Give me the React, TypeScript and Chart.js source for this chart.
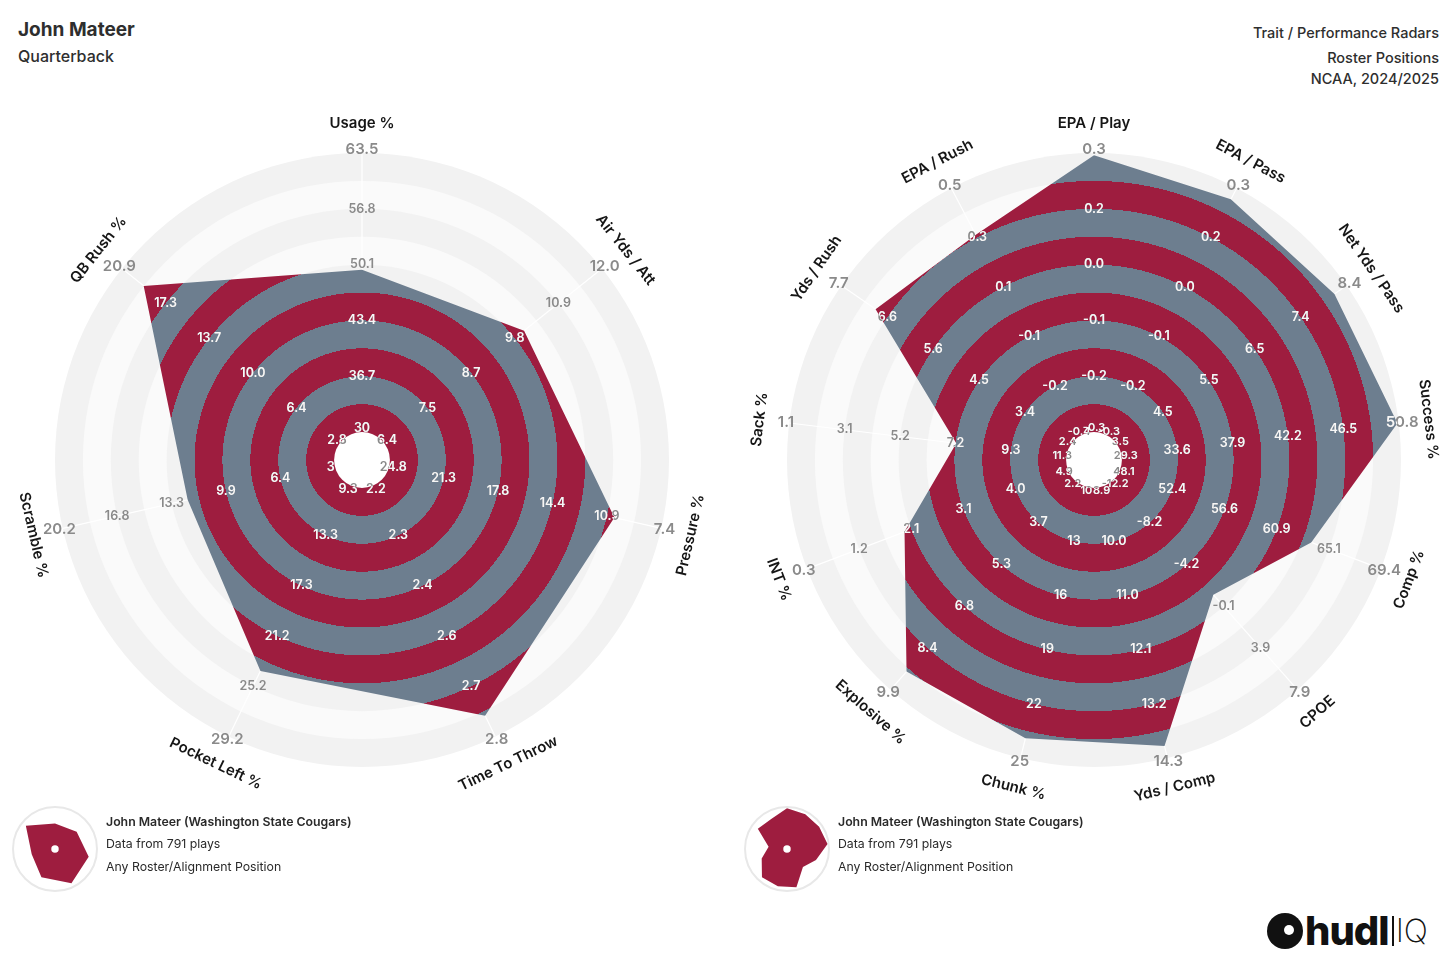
import React, { useEffect, useRef } from 'react';
import { Chart, registerables } from 'chart.js';

Chart.register(...registerables);

const FONT = 'Inter, "Noto Sans", "DejaVu Sans", sans-serif';
const CRIMSON = '#9E1D3F';
const SLATE = '#6D7E8F';
const BAND_DARK = '#F2F2F2';
const BAND_LIGHT = '#FAFAFA';
const TICK_OUT = '#8A8A8A';
const TICK_IN = 'rgba(255,255,255,0.93)';
const AXIS_TEXT = '#161616';

// ---------- Left radar: Trait radar ----------
const leftAxes = ['Usage %', 'Air Yds / Att', 'Pressure %', 'Time To Throw', 'Pocket Left %', 'Scramble %', 'QB Rush %'];
const leftMin = [30, 6.4, 24.8, 2.2, 9.3, 3, 2.8];
const leftMax = [63.5, 12.0, 7.4, 2.8, 29.2, 20.2, 20.9];
const leftValues = [49.5, 10.0, 10.4, 2.75, 24.0, 12.3, 19.1];
const leftTicks = [
  ['30', '36.7', '43.4', '50.1', '56.8', '63.5'],
  ['6.4', '7.5', '8.7', '9.8', '10.9', '12.0'],
  ['24.8', '21.3', '17.8', '14.4', '10.9', '7.4'],
  ['2.2', '2.3', '2.4', '2.6', '2.7', '2.8'],
  ['9.3', '13.3', '17.3', '21.2', '25.2', '29.2'],
  ['3', '6.4', '9.9', '13.3', '16.8', '20.2'],
  ['2.8', '6.4', '10.0', '13.7', '17.3', '20.9'],
];

// ---------- Right radar: Performance radar ----------
const rightAxes = ['EPA / Play', 'EPA / Pass', 'Net Yds / Pass', 'Success %', 'Comp %', 'CPOE', 'Yds / Comp', 'Chunk %', 'Explosive %', 'INT %', 'Sack %', 'Yds / Rush', 'EPA / Rush'];
const rightMin = [-0.3, -0.3, 3.5, 29.3, 48.1, -12.2, 8.9, 10, 2.2, 4.9, 11.3, 2.4, -0.4];
const rightMax = [0.3, 0.3, 8.4, 50.8, 69.4, 7.9, 14.3, 25, 9.9, 0.3, 1.1, 7.7, 0.5];
const rightValues = [0.295, 0.273, 8.14, 50.7, 63.7, -1.25, 14.06, 23.9, 9.23, 2.02, 7.25, 6.91, 0.33];
const rightTicks = [
  ['-0.3', '-0.2', '-0.1', '0.0', '0.2', '0.3'],
  ['-0.3', '-0.2', '-0.1', '0.0', '0.2', '0.3'],
  ['3.5', '4.5', '5.5', '6.5', '7.4', '8.4'],
  ['29.3', '33.6', '37.9', '42.2', '46.5', '50.8'],
  ['48.1', '52.4', '56.6', '60.9', '65.1', '69.4'],
  ['-12.2', '-8.2', '-4.2', '-0.1', '3.9', '7.9'],
  ['8.9', '10.0', '11.0', '12.1', '13.2', '14.3'],
  ['10', '13', '16', '19', '22', '25'],
  ['2.2', '3.7', '5.3', '6.8', '8.4', '9.9'],
  ['4.9', '4.0', '3.1', '2.1', '1.2', '0.3'],
  ['11.3', '9.3', '7.2', '5.2', '3.1', '1.1'],
  ['2.4', '3.4', '4.5', '5.6', '6.6', '7.7'],
  ['-0.4', '-0.2', '-0.1', '0.1', '0.3', '0.5'],
];

const R = 307; // drawing radius of the radar
const SCALE_MIN = -0.1;
const SCALE_MAX = 1;

function toFractions(values: number[], mins: number[], maxs: number[]) {
  return values.map((v, i) => (v - mins[i]) / (maxs[i] - mins[i]));
}

function stripeFill(chart: any) {
  const s = chart.scales && chart.scales.r;
  if (!s || !s.drawingArea) return CRIMSON;
  const area = s.drawingArea;
  const g = chart.ctx.createRadialGradient(s.xCenter, s.yCenter, 0, s.xCenter, s.yCenter, area);
  g.addColorStop(0, CRIMSON);
  for (let k = 0; k < 10; k++) {
    const a = Math.min(1, s.getDistanceFromCenterForValue(k / 10) / area);
    const b = Math.min(1, s.getDistanceFromCenterForValue((k + 1) / 10) / area);
    const c = k % 2 === 0 ? CRIMSON : SLATE;
    g.addColorStop(a, c);
    g.addColorStop(b, c);
  }
  return g;
}

type RadarProps = {
  axes: string[];
  mins: number[];
  maxs: number[];
  values: number[];
  ticks: string[][];
  innerFont: number;
  left: number;
  top: number;
  width: number;
  height: number;
  cx: number;
  cy: number;
};

function RadarChart(props: RadarProps) {
  const ref = useRef<HTMLCanvasElement>(null);
  const { axes, mins, maxs, values, ticks, innerFont, left, top, width, height, cx, cy } = props;

  useEffect(() => {
    const canvas = ref.current;
    if (!canvas) return;
    const fr = toFractions(values, mins, maxs);

    const decor = {
      id: 'radarDecor',
      beforeDraw(chart: any) {
        const s = chart.scales.r;
        const ctx = chart.ctx;
        ctx.save();
        for (let k = 10; k >= 1; k--) {
          const r = s.getDistanceFromCenterForValue(k / 10);
          ctx.beginPath();
          ctx.arc(s.xCenter, s.yCenter, r, 0, Math.PI * 2);
          ctx.fillStyle = k % 2 === 0 ? BAND_DARK : BAND_LIGHT;
          ctx.fill();
        }
        ctx.beginPath();
        ctx.arc(s.xCenter, s.yCenter, s.getDistanceFromCenterForValue(0), 0, Math.PI * 2);
        ctx.fillStyle = '#FFFFFF';
        ctx.fill();
        ctx.restore();
      },
      afterDatasetsDraw(chart: any) {
        const s = chart.scales.r;
        const ctx = chart.ctx;
        const meta = chart.getDatasetMeta(0);
        const n = axes.length;

        const drawTicks = (inside: boolean) => {
          for (let i = 0; i < n; i++) {
            for (let j = 0; j < 6; j++) {
              const v = j === 0 ? 0.0147 : j === 5 ? 1.012 : j / 5;
              const p = s.getPointPositionForValue(i, v);
              const size = j === 5 ? 15 : j === 0 ? innerFont : 12.5;
              ctx.font = `600 ${size}px ${FONT}`;
              ctx.fillStyle = inside ? TICK_IN : TICK_OUT;
              ctx.fillText(ticks[i][j], p.x, p.y);
            }
          }
        };

        ctx.save();
        ctx.textAlign = 'center';
        ctx.textBaseline = 'middle';
        drawTicks(false);
        ctx.beginPath();
        meta.data.forEach((pt: any, i: number) => {
          if (i === 0) ctx.moveTo(pt.x, pt.y);
          else ctx.lineTo(pt.x, pt.y);
        });
        ctx.closePath();
        const r0 = s.getDistanceFromCenterForValue(0);
        ctx.moveTo(s.xCenter + r0, s.yCenter);
        ctx.arc(s.xCenter, s.yCenter, r0, 0, Math.PI * 2);
        ctx.clip('evenodd');
        drawTicks(true);
        ctx.restore();

        ctx.save();
        ctx.textAlign = 'center';
        ctx.textBaseline = 'middle';
        ctx.font = `600 15px ${FONT}`;
        ctx.fillStyle = AXIS_TEXT;
        for (let i = 0; i < n; i++) {
          const angle = s.getIndexAngle(i);
          const deg = (angle * 180) / Math.PI;
          const p = s.getPointPositionForValue(i, 1.1075);
          const rot = deg > 90 && deg < 270 ? angle - Math.PI : angle;
          ctx.save();
          ctx.translate(p.x, p.y);
          ctx.rotate(rot);
          ctx.fillText(axes[i], 0, 0);
          ctx.restore();
        }
        ctx.restore();
      },
    };

    const chart = new Chart(canvas, {
      type: 'radar',
      data: {
        labels: axes,
        datasets: [
          {
            data: fr,
            fill: 'origin',
            backgroundColor: (c: any) => stripeFill(c.chart),
            borderColor: 'rgba(0,0,0,0)',
            borderWidth: 0,
            pointRadius: 0,
            pointHoverRadius: 0,
            tension: 0,
          },
        ],
      },
      options: {
        animation: false,
        responsive: false,
        maintainAspectRatio: false,
        events: [],
        layout: {
          padding: { left: cx - R, right: width - cx - R, top: cy - R, bottom: height - cy - R },
        },
        plugins: { legend: { display: false }, tooltip: { enabled: false } },
        scales: {
          r: {
            min: SCALE_MIN,
            max: SCALE_MAX,
            startAngle: 0,
            beginAtZero: false,
            ticks: { display: false, stepSize: 0.1 },
            grid: { display: false, circular: true },
            angleLines: { display: true, color: '#FFFFFF', lineWidth: 1.2 },
            pointLabels: { display: false },
          },
        },
      } as any,
      plugins: [decor],
    } as any);
    return () => chart.destroy();
  }, []);

  return (
    <canvas
      ref={ref}
      width={width}
      height={height}
      style={{ position: 'absolute', left, top, width, height, display: 'block' }}
    />
  );
}

type MiniProps = { values: number[]; mins: number[]; maxs: number[]; axes: string[]; cx: number; cy: number };

function MiniRadar(props: MiniProps) {
  const ref = useRef<HTMLCanvasElement>(null);
  const { values, mins, maxs, axes, cx, cy } = props;
  const size = 82;
  useEffect(() => {
    const canvas = ref.current;
    if (!canvas) return;
    const chart = new Chart(canvas, {
      type: 'radar',
      data: {
        labels: axes,
        datasets: [
          {
            data: toFractions(values, mins, maxs),
            fill: 'origin',
            backgroundColor: CRIMSON,
            borderColor: 'rgba(0,0,0,0)',
            borderWidth: 0,
            pointRadius: 0,
            tension: 0,
          },
        ],
      },
      options: {
        animation: false,
        responsive: false,
        maintainAspectRatio: false,
        events: [],
        layout: { padding: 0 },
        plugins: { legend: { display: false }, tooltip: { enabled: false } },
        scales: {
          r: {
            min: SCALE_MIN,
            max: SCALE_MAX,
            ticks: { display: false },
            grid: { display: false, circular: true },
            angleLines: { display: false },
            pointLabels: { display: false },
          },
        },
      } as any,
    } as any);
    return () => chart.destroy();
  }, []);
  return (
    <>
      <div
        style={{
          position: 'absolute',
          left: cx - 43,
          top: cy - 43,
          width: 82,
          height: 82,
          borderRadius: '50%',
          border: '2px solid #E8E8E8',
        }}
      />
      <canvas
        ref={ref}
        width={size}
        height={size}
        style={{ position: 'absolute', left: cx - size / 2, top: cy - size / 2, width: size, height: size }}
      />
    </>
  );
}

function LegendText({ left }: { left: number }) {
  const base: React.CSSProperties = { position: 'absolute', left, fontSize: 12.3, lineHeight: '16px', color: '#2a2a2a', whiteSpace: 'nowrap' };
  return (
    <>
      <div style={{ ...base, top: 814, fontWeight: 600 }}>John Mateer (Washington State Cougars)</div>
      <div style={{ ...base, top: 836 }}>Data from 791 plays</div>
      <div style={{ ...base, top: 859 }}>Any Roster/Alignment Position</div>
    </>
  );
}

export default function App() {
  const hdr: React.CSSProperties = { position: 'absolute', right: 17, fontSize: 14.5, fontWeight: 500, lineHeight: '20px', color: '#2e2e2e', whiteSpace: 'nowrap' };
  return (
    <div
      style={{
        position: 'absolute',
        left: 0,
        top: 0,
        width: 1456,
        height: 961,
        background: '#FFFFFF',
        fontFamily: FONT,
        overflow: 'hidden',
      }}
    >
      <div style={{ position: 'absolute', left: 18, top: 19, fontSize: 19, fontWeight: 700, lineHeight: '22px', color: '#2e2e2e' }}>John Mateer</div>
      <div style={{ position: 'absolute', left: 18, top: 46, fontSize: 16, fontWeight: 500, lineHeight: '20px', color: '#2e2e2e' }}>Quarterback</div>

      <div style={{ ...hdr, top: 23 }}>Trait / Performance Radars</div>
      <div style={{ ...hdr, top: 48 }}>Roster Positions</div>
      <div style={{ ...hdr, top: 69 }}>NCAA, 2024/2025</div>

      <RadarChart
        axes={leftAxes}
        mins={leftMin}
        maxs={leftMax}
        values={leftValues}
        ticks={leftTicks}
        innerFont={12.5}
        left={0}
        top={90}
        width={728}
        height={740}
        cx={362}
        cy={370}
      />
      <RadarChart
        axes={rightAxes}
        mins={rightMin}
        maxs={rightMax}
        values={rightValues}
        ticks={rightTicks}
        innerFont={11}
        left={728}
        top={90}
        width={728}
        height={740}
        cx={366}
        cy={370}
      />

      <MiniRadar axes={leftAxes} values={leftValues} mins={leftMin} maxs={leftMax} cx={55} cy={849} />
      <LegendText left={106} />
      <MiniRadar axes={rightAxes} values={rightValues} mins={rightMin} maxs={rightMax} cx={787} cy={849} />
      <LegendText left={838} />

      <div style={{ position: 'absolute', left: 1267, top: 908, height: 46, display: 'flex', alignItems: 'center' }}>
        <div style={{ width: 36, height: 36, borderRadius: '50%', background: '#111', position: 'relative', marginRight: 2 }}>
          <div style={{ position: 'absolute', left: 17, top: 12, width: 10, height: 10, borderRadius: '50%', background: '#fff' }} />
        </div>
        <span style={{ fontSize: 40, fontWeight: 800, letterSpacing: -1, color: '#111', lineHeight: '46px' }}>hudl</span>
        <span style={{ display: 'inline-block', width: 2, height: 30, background: '#111', margin: '0 2px 0 3px' }} />
        <span style={{ fontSize: 32, fontWeight: 200, color: '#111', lineHeight: '46px' }}>IQ</span>
      </div>
    </div>
  );
}
